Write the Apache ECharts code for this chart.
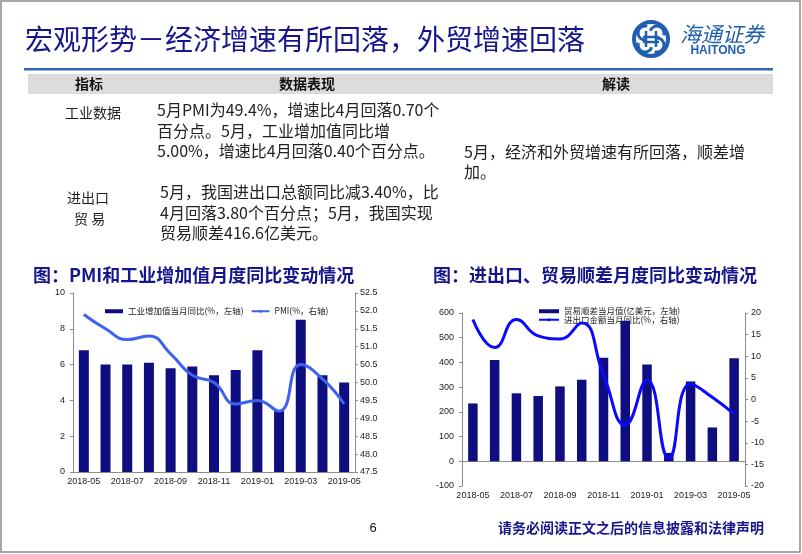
<!DOCTYPE html>
<html><head><meta charset="utf-8">
<script src="https://cdn.jsdelivr.net/npm/echarts@6/dist/echarts.min.js"></script>
<style>html,body{margin:0;padding:0;background:#fff}#c{width:802px;height:554px}</style>
</head><body><div id="c"></div>
<script>
// ---- data ----
const months = ['2018-05','2018-06','2018-07','2018-08','2018-09','2018-10','2018-11','2018-12','2019-01','2019-02','2019-03','2019-04','2019-05'];
const industrialYoy = [6.8,6.0,6.0,6.1,5.8,5.9,5.4,5.7,6.8,3.4,8.5,5.4,5.0];
const pmi = [51.9,51.5,51.2,51.3,50.8,50.2,50.0,49.4,49.5,49.2,50.5,50.1,49.4];
const tradeBalance = [234,410,275,264,303,330,419,569,392,34,323,137,416.6];
const tradeYoy = [18.5,12.0,18.5,14.7,14.0,17.7,5.7,-5.9,4.5,-13.6,3.6,0.5,-3.4];
const left1Range = [0,10,2];
const right1Range = [47.5,52.5,0.5];
const left2Range = [-100,600,100];
const right2Range = [-20,20,5];
const seriesNames1 = ['工业增加值当月同比(%，左轴)','PMI(%，右轴)'];
const seriesNames2 = ['贸易顺差当月值(亿美元，左轴)','进出口金额当月同比(%，右轴)'];
const pageTitle = '宏观形势－经济增速有所回落，外贸增速回落';
const chartTitle1 = '图：PMI和工业增加值月度同比变动情况';
const chartTitle2 = '图：进出口、贸易顺差月度同比变动情况';
const tableHeads = ['指标','数据表现','解读'];
const row1Label = ['工业数据'];
const row1Text = ['5月PMI为49.4%，增速比4月回落0.70个','百分点。5月，工业增加值同比增','5.00%，增速比4月回落0.40个百分点。'];
const row2Label = ['进出口','贸 易'];
const row2Text = ['5月，我国进出口总额同比减3.40%，比','4月回落3.80个百分点；5月，我国实现','贸易顺差416.6亿美元。'];
const readText = ['5月，经济和外贸增速有所回落，顺差增','加。'];
const footerText = '请务必阅读正文之后的信息披露和法律声明';
const pageNo = '6';

// ---- chart ----
const CJK = '"Noto Sans CJK SC", sans-serif';
const LAT = '"Liberation Sans", Arial, sans-serif';
const NAVY = '#16168c';
const BAR = '#0e0e80';
const axisCol = '#8c8c8c';
const labCol = '#222';

function txt(text, x, y, size, color, opts) {
  opts = opts || {};
  return {type:'text', x:x, y:y, z:100, style:{text:text, fontSize:size, fontFamily:opts.font||CJK,
    fontWeight:opts.weight||'normal', fontStyle:opts.style||'normal', fill:color, textAlign:opts.align||'left', textVerticalAlign:'middle'}};
}
const g = [];
g.push({type:'rect', shape:{x:1,y:1,width:799,height:551}, style:{fill:'none', stroke:'#8a8a8a', lineWidth:1.5}, z:1});
g.push(txt(pageTitle, 25, 39, 28, NAVY));
// logo
g.push({type:'circle', shape:{cx:651,cy:39,r:17}, style:{fill:'none', stroke:'#1f5fae', lineWidth:4}, z:100});
g.push({type:'arc', shape:{cx:645,cy:33,r:7,startAngle:Math.PI*0.5,endAngle:Math.PI*1.6}, style:{fill:'none',stroke:'#1f5fae',lineWidth:3}, z:100});
g.push({type:'arc', shape:{cx:657,cy:45,r:7,startAngle:-Math.PI*0.5,endAngle:Math.PI*0.6}, style:{fill:'none',stroke:'#1f5fae',lineWidth:3}, z:100});
g.push({type:'arc', shape:{cx:657,cy:33,r:7,startAngle:-Math.PI*0.9,endAngle:Math.PI*0.1}, style:{fill:'none',stroke:'#1f5fae',lineWidth:3}, z:100});
g.push({type:'arc', shape:{cx:645,cy:45,r:7,startAngle:Math.PI*0.1,endAngle:Math.PI*1.1}, style:{fill:'none',stroke:'#1f5fae',lineWidth:3}, z:100});
g.push({type:'line', shape:{x1:646,y1:31,x2:646,y2:47}, style:{stroke:'#1f5fae',lineWidth:2.5}, z:100});
g.push({type:'line', shape:{x1:656,y1:31,x2:656,y2:47}, style:{stroke:'#1f5fae',lineWidth:2.5}, z:100});
g.push({type:'line', shape:{x1:643,y1:37,x2:659,y2:37}, style:{stroke:'#1f5fae',lineWidth:2.5}, z:100});
g.push({type:'line', shape:{x1:643,y1:42,x2:659,y2:42}, style:{stroke:'#1f5fae',lineWidth:2.5}, z:100});
g.push(txt('海通证券', 722, 34, 21, '#1f5fae', {align:'center', style:'italic'}));
g.push(txt('HAITONG', 718, 51, 12, '#1f5fae', {align:'center', weight:'bold', font:LAT}));
// rule + header band
g.push({type:'rect', shape:{x:24,y:68,width:749,height:2.5}, style:{fill:'#2e68b0'}, z:50});
g.push({type:'rect', shape:{x:28,y:74,width:745,height:20}, style:{fill:'#dcdcdc'}, z:50});
g.push(txt(tableHeads[0], 89, 84, 14, '#111', {align:'center', weight:'bold'}));
g.push(txt(tableHeads[1], 307, 84, 14, '#111', {align:'center', weight:'bold'}));
g.push(txt(tableHeads[2], 616, 84, 14, '#111', {align:'center', weight:'bold'}));
g.push(txt(row1Label[0], 65, 112.5, 14, '#222'));
row1Text.forEach((t,i)=>g.push(txt(t, 157, 110 + i*20.7, 16, '#222')));
g.push(txt(row2Label[0], 67, 198, 14, '#222'));
g.push(txt(row2Label[1], 74, 219, 14, '#222'));
row2Text.forEach((t,i)=>g.push(txt(t, 160, 192 + i*20.7, 16, '#222')));
readText.forEach((t,i)=>g.push(txt(t, 464, 151.5 + i*20.7, 16, '#222')));
g.push(txt(chartTitle1, 33, 275, 18, NAVY, {weight:'bold'}));
g.push(txt(chartTitle2, 433, 275, 18, NAVY, {weight:'bold'}));
g.push(txt(pageNo, 373, 528, 13, '#111', {align:'center', font:LAT}));
g.push(txt(footerText, 631, 528, 14, NAVY, {align:'center', weight:'bold'}));

const axisLab = {color:labCol, fontSize:9, fontFamily:LAT};
const legTxt = {color:labCol, fontSize:8.5, fontFamily:CJK};

const option = {
  backgroundColor:'#fff',
  animation:false,
  graphic:g,
  grid:[{left:73, top:293, width:282, height:179}, {left:462, top:313, width:283, height:173}],
  legend:[
    {left:100, top:302, itemWidth:18, itemHeight:4, itemGap:7, z:1, textStyle:legTxt,
     data:[{name:seriesNames1[0], icon:'rect'}, {name:seriesNames1[1]}]},
    {left:533, top:302, orient:'vertical', itemWidth:20, itemHeight:4, itemGap:0, z:1, textStyle:legTxt,
     data:[{name:seriesNames2[0], icon:'rect'}, {name:seriesNames2[1]}]}
  ],
  xAxis:[
    {type:'category', gridIndex:0, data:months, boundaryGap:true,
     axisLine:{lineStyle:{color:axisCol}}, axisTick:{length:4, lineStyle:{color:axisCol}},
     axisLabel:Object.assign({interval:1, margin:5}, axisLab)},
    {type:'category', gridIndex:1, data:months, boundaryGap:true,
     axisLine:{onZero:true, onZeroAxisIndex:2, lineStyle:{color:axisCol}}, axisTick:{length:4, lineStyle:{color:axisCol}},
     axisLabel:Object.assign({interval:1, margin:5}, axisLab)}
  ],
  yAxis:[
    {type:'value', gridIndex:0, min:left1Range[0], max:left1Range[1], interval:left1Range[2],
     splitLine:{show:false}, axisLine:{show:true, lineStyle:{color:axisCol}}, axisTick:{show:true, length:3, lineStyle:{color:axisCol}},
     axisLabel:Object.assign({margin:8}, axisLab)},
    {type:'value', gridIndex:0, position:'right', min:right1Range[0], max:right1Range[1], interval:right1Range[2],
     splitLine:{show:false}, axisLine:{show:true, lineStyle:{color:axisCol}}, axisTick:{show:true, length:3, lineStyle:{color:axisCol}},
     axisLabel:Object.assign({margin:5, formatter:v=>v.toFixed(1)}, axisLab)},
    {type:'value', gridIndex:1, min:left2Range[0], max:left2Range[1], interval:left2Range[2],
     splitLine:{show:false}, axisLine:{show:true, lineStyle:{color:axisCol}}, axisTick:{show:true, length:3, lineStyle:{color:axisCol}},
     axisLabel:Object.assign({margin:8}, axisLab)},
    {type:'value', gridIndex:1, position:'right', min:right2Range[0], max:right2Range[1], interval:right2Range[2],
     splitLine:{show:false}, axisLine:{show:true, lineStyle:{color:axisCol}}, axisTick:{show:true, length:3, lineStyle:{color:axisCol}},
     axisLabel:Object.assign({margin:6}, axisLab)}
  ],
  series:[
    {name:seriesNames1[0], type:'bar', xAxisIndex:0, yAxisIndex:0, data:industrialYoy, barWidth:10, itemStyle:{color:BAR}, z:2},
    {name:seriesNames1[1], type:'line', xAxisIndex:0, yAxisIndex:1, data:pmi, smooth:0.5, symbol:'none',
     lineStyle:{color:'#3d62f0', width:3}, itemStyle:{color:'#3d62f0'}, z:3},
    {name:seriesNames2[0], type:'bar', xAxisIndex:1, yAxisIndex:2, data:tradeBalance, barWidth:9.5, itemStyle:{color:BAR}, z:2},
    {name:seriesNames2[1], type:'line', xAxisIndex:1, yAxisIndex:3, data:tradeYoy, smooth:0.5, symbol:'none',
     lineStyle:{color:'#0a0aff', width:3}, itemStyle:{color:'#0a0aff'}, z:3}
  ]
};
const chart = echarts.init(document.getElementById('c'), null, {renderer:'canvas'});
chart.setOption(option);
</script></body></html>
